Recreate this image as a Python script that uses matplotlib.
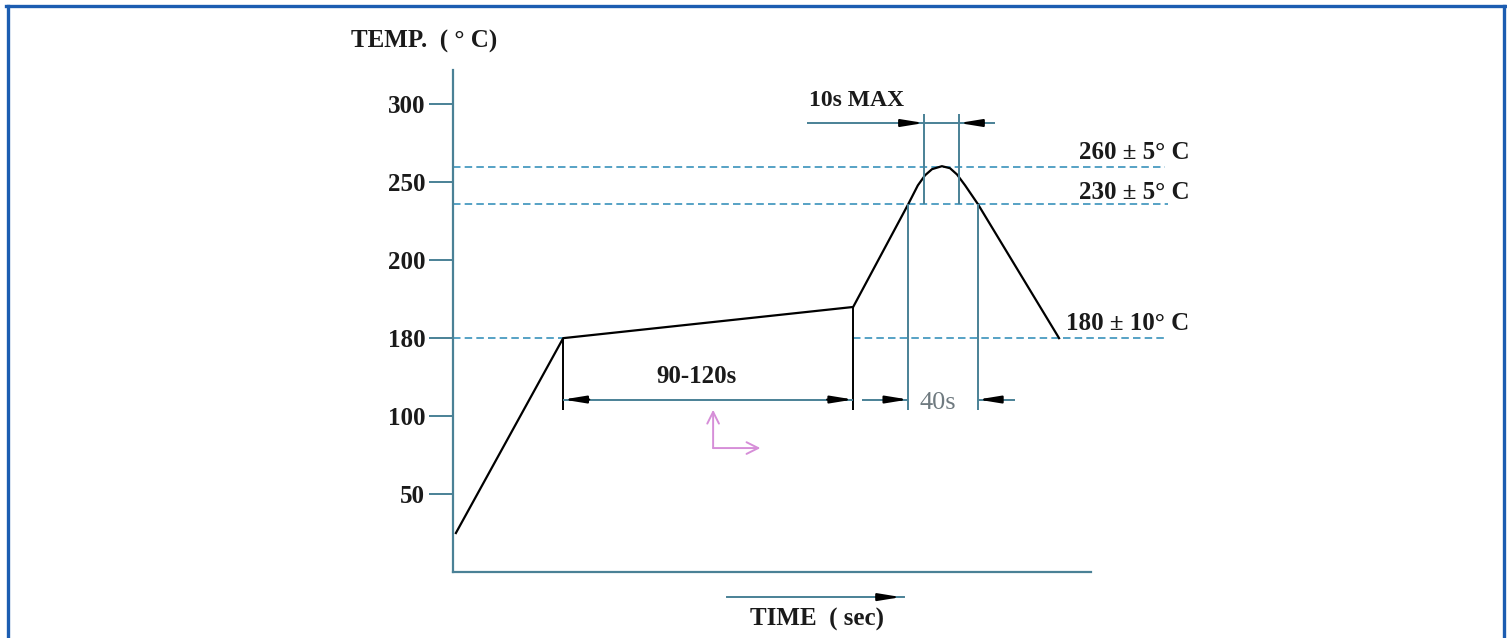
import matplotlib.pyplot as plt
import numpy as np
from matplotlib.lines import Line2D

plt.rcParams["font.family"] = ["Liberation Serif", "DejaVu Serif"]

# reflow profile (time in s, temp in deg C)
time_s = [1, 38, 138, 157, 160.3, 162.8, 165.2, 168.6, 171.4, 173.8, 176.6, 181, 209]
temp_c = [25, 180, 188, 236, 248, 254.5, 258.4, 260.3, 259, 255, 248, 236, 180]

# the temperature axis is a sketch: ticks are evenly spaced, values are not
tick_temps = [50, 100, 180, 200, 250, 300]
scale_temps = [0, 50, 100, 180, 200, 250, 300, 350]
scale_pos = [0, 1, 2, 3, 4, 5, 6, 7]

# reference levels and their labels
level_temps = [260, 236, 180]
level_labels = ["260 ± 5° C", "230 ± 5° C", "180 ± 10° C"]
level_label_temps = [269, 243.5, 183.8]

# dimension marks
dim_temp = 117          # height of the 90-120s / 40s dimension line
max_temp = 288          # height of the 10s MAX dimension line
ext_bottom = 106        # lower end of extension lines
peak_window = [162.4, 174.5]  # the 10s MAX extension lines
peak_top = 294

AXIS = "#4a8196"
DASH = "#3a92bb"
INK = "#1a1a1a"
BORDER = "#1c5db1"


def fwd(y):
    return np.interp(y, scale_temps, scale_pos)


def inv(p):
    return np.interp(p, scale_pos, scale_temps)


fig = plt.figure(figsize=(15.07, 6.38), dpi=100)
ax = fig.add_axes([453 / 1507, 66 / 638, 747 / 1507, 502 / 638])
ax.set_yscale("function", functions=(fwd, inv))
ax.set_xlim(0, 257.6)
ax.set_ylim(0, 322)

for s in ["top", "right"]:
    ax.spines[s].set_visible(False)
ax.spines["left"].set_color(AXIS)
ax.spines["bottom"].set_color(AXIS)
ax.spines["left"].set_linewidth(1.6)
ax.spines["bottom"].set_linewidth(1.6)
ax.spines["bottom"].set_bounds(0, 220)

ax.set_xticks([])
ax.set_yticks(tick_temps)
ax.set_yticklabels([str(t) for t in tick_temps], fontsize=18, fontweight="bold", color=INK)
ax.yaxis.set_minor_locator(plt.NullLocator())
ax.tick_params(axis="y", direction="out", length=17, width=1.4, color=AXIS, pad=3)

# dashed levels
ax.hlines(level_temps[0], 0, 245.5, colors=DASH, lw=1.2, linestyles=(0, (4.5, 2.5)))
ax.hlines(level_temps[1], 0, 246.6, colors=DASH, lw=1.2, linestyles=(0, (4.5, 2.5)))
ax.hlines(level_temps[2], 0, time_s[1], colors=DASH, lw=1.2, linestyles=(0, (4.5, 2.5)))
ax.hlines(level_temps[2], time_s[2], 245.5, colors=DASH, lw=1.2, linestyles=(0, (4.5, 2.5)))

for lab, ty in zip(level_labels, level_label_temps):
    ax.text(254, ty, lab, ha="right", va="center", fontsize=18, fontweight="bold", color=INK)

# profile
ax.plot(time_s, temp_c, color="black", lw=1.6, solid_joinstyle="round")

# extension lines
ax.vlines(time_s[1], ext_bottom, temp_c[1], colors="black", lw=1.4)
ax.vlines(time_s[2], ext_bottom, temp_c[2], colors="black", lw=1.4)
ax.vlines([time_s[3], time_s[11]], ext_bottom, level_temps[1], colors=AXIS, lw=1.4)
ax.vlines(peak_window, level_temps[1], peak_top, colors=AXIS, lw=1.4)

# dimension lines
ax.hlines(dim_temp, time_s[1], time_s[2], colors=AXIS, lw=1.4)
ax.hlines(dim_temp, 141, time_s[3], colors=AXIS, lw=1.4)
ax.hlines(dim_temp, time_s[11], 193.8, colors=AXIS, lw=1.4)
ax.hlines(max_temp, 122, 187, colors=AXIS, lw=1.4)

arrow = dict(arrowstyle="-|>,head_length=1.1,head_width=0.18", color="black",
             lw=1.5, mutation_scale=12, shrinkA=0, shrinkB=0)
ax.annotate("", xy=(time_s[1], dim_temp), xytext=(47, dim_temp), arrowprops=arrow)
ax.annotate("", xy=(time_s[2], dim_temp), xytext=(129, dim_temp), arrowprops=arrow)
ax.annotate("", xy=(time_s[3], dim_temp), xytext=(149, dim_temp), arrowprops=arrow)
ax.annotate("", xy=(time_s[11], dim_temp), xytext=(189, dim_temp), arrowprops=arrow)
ax.annotate("", xy=(peak_window[0], max_temp), xytext=(154, max_temp), arrowprops=arrow)
ax.annotate("", xy=(peak_window[1], max_temp), xytext=(183, max_temp), arrowprops=arrow)

ax.text(84.1, 141, "90-120s", ha="center", va="center", fontsize=18, fontweight="bold", color=INK)
ax.text(139.3, 302.5, "10s MAX", ha="center", va="center", fontsize=17, fontweight="bold", color=INK)
ax.text(167.3, 113, "40s", ha="center", va="center", fontsize=19, color="#6f7a80")

# stray pink axis glyph from the scan
pink = dict(arrowstyle="->,head_length=0.6,head_width=0.3", color="#d68ed8",
            lw=1.4, mutation_scale=14, shrinkA=0, shrinkB=0)
ax.annotate("", xy=(89.7, 106.5), xytext=(89.7, 79.5), arrowprops=pink)
ax.annotate("", xy=(106, 79.5), xytext=(89.7, 79.5), arrowprops=pink)

# axis titles
tr = ax.get_xaxis_transform()
ax.plot([94.5, 155.5], [-0.05, -0.05], color=AXIS, lw=1.4, transform=tr, clip_on=False)
ax.annotate("", xy=(154.5, -0.05), xytext=(146, -0.05), xycoords=tr, textcoords=tr,
            arrowprops=arrow, annotation_clip=False)
ax.text(125.5, -0.095, "TIME  ( sec)", transform=tr, ha="center", va="center",
        fontsize=18, fontweight="bold", color=INK)
ax.text(-10, 1.056, "TEMP.  ( ° C)", transform=tr, ha="center", va="center",
        fontsize=18, fontweight="bold", color=INK)

# frame of the original figure
fig.add_artist(Line2D([7.5 / 1507, 7.5 / 1507], [0, 1 - 5.5 / 638], color=BORDER, lw=2.4))
fig.add_artist(Line2D([1503.5 / 1507, 1503.5 / 1507], [0, 1 - 5.5 / 638], color=BORDER, lw=2.4))
fig.add_artist(Line2D([6 / 1507, 1505 / 1507], [1 - 5.5 / 638, 1 - 5.5 / 638], color=BORDER, lw=2.4))

fig.savefig("out.png", dpi=100)
